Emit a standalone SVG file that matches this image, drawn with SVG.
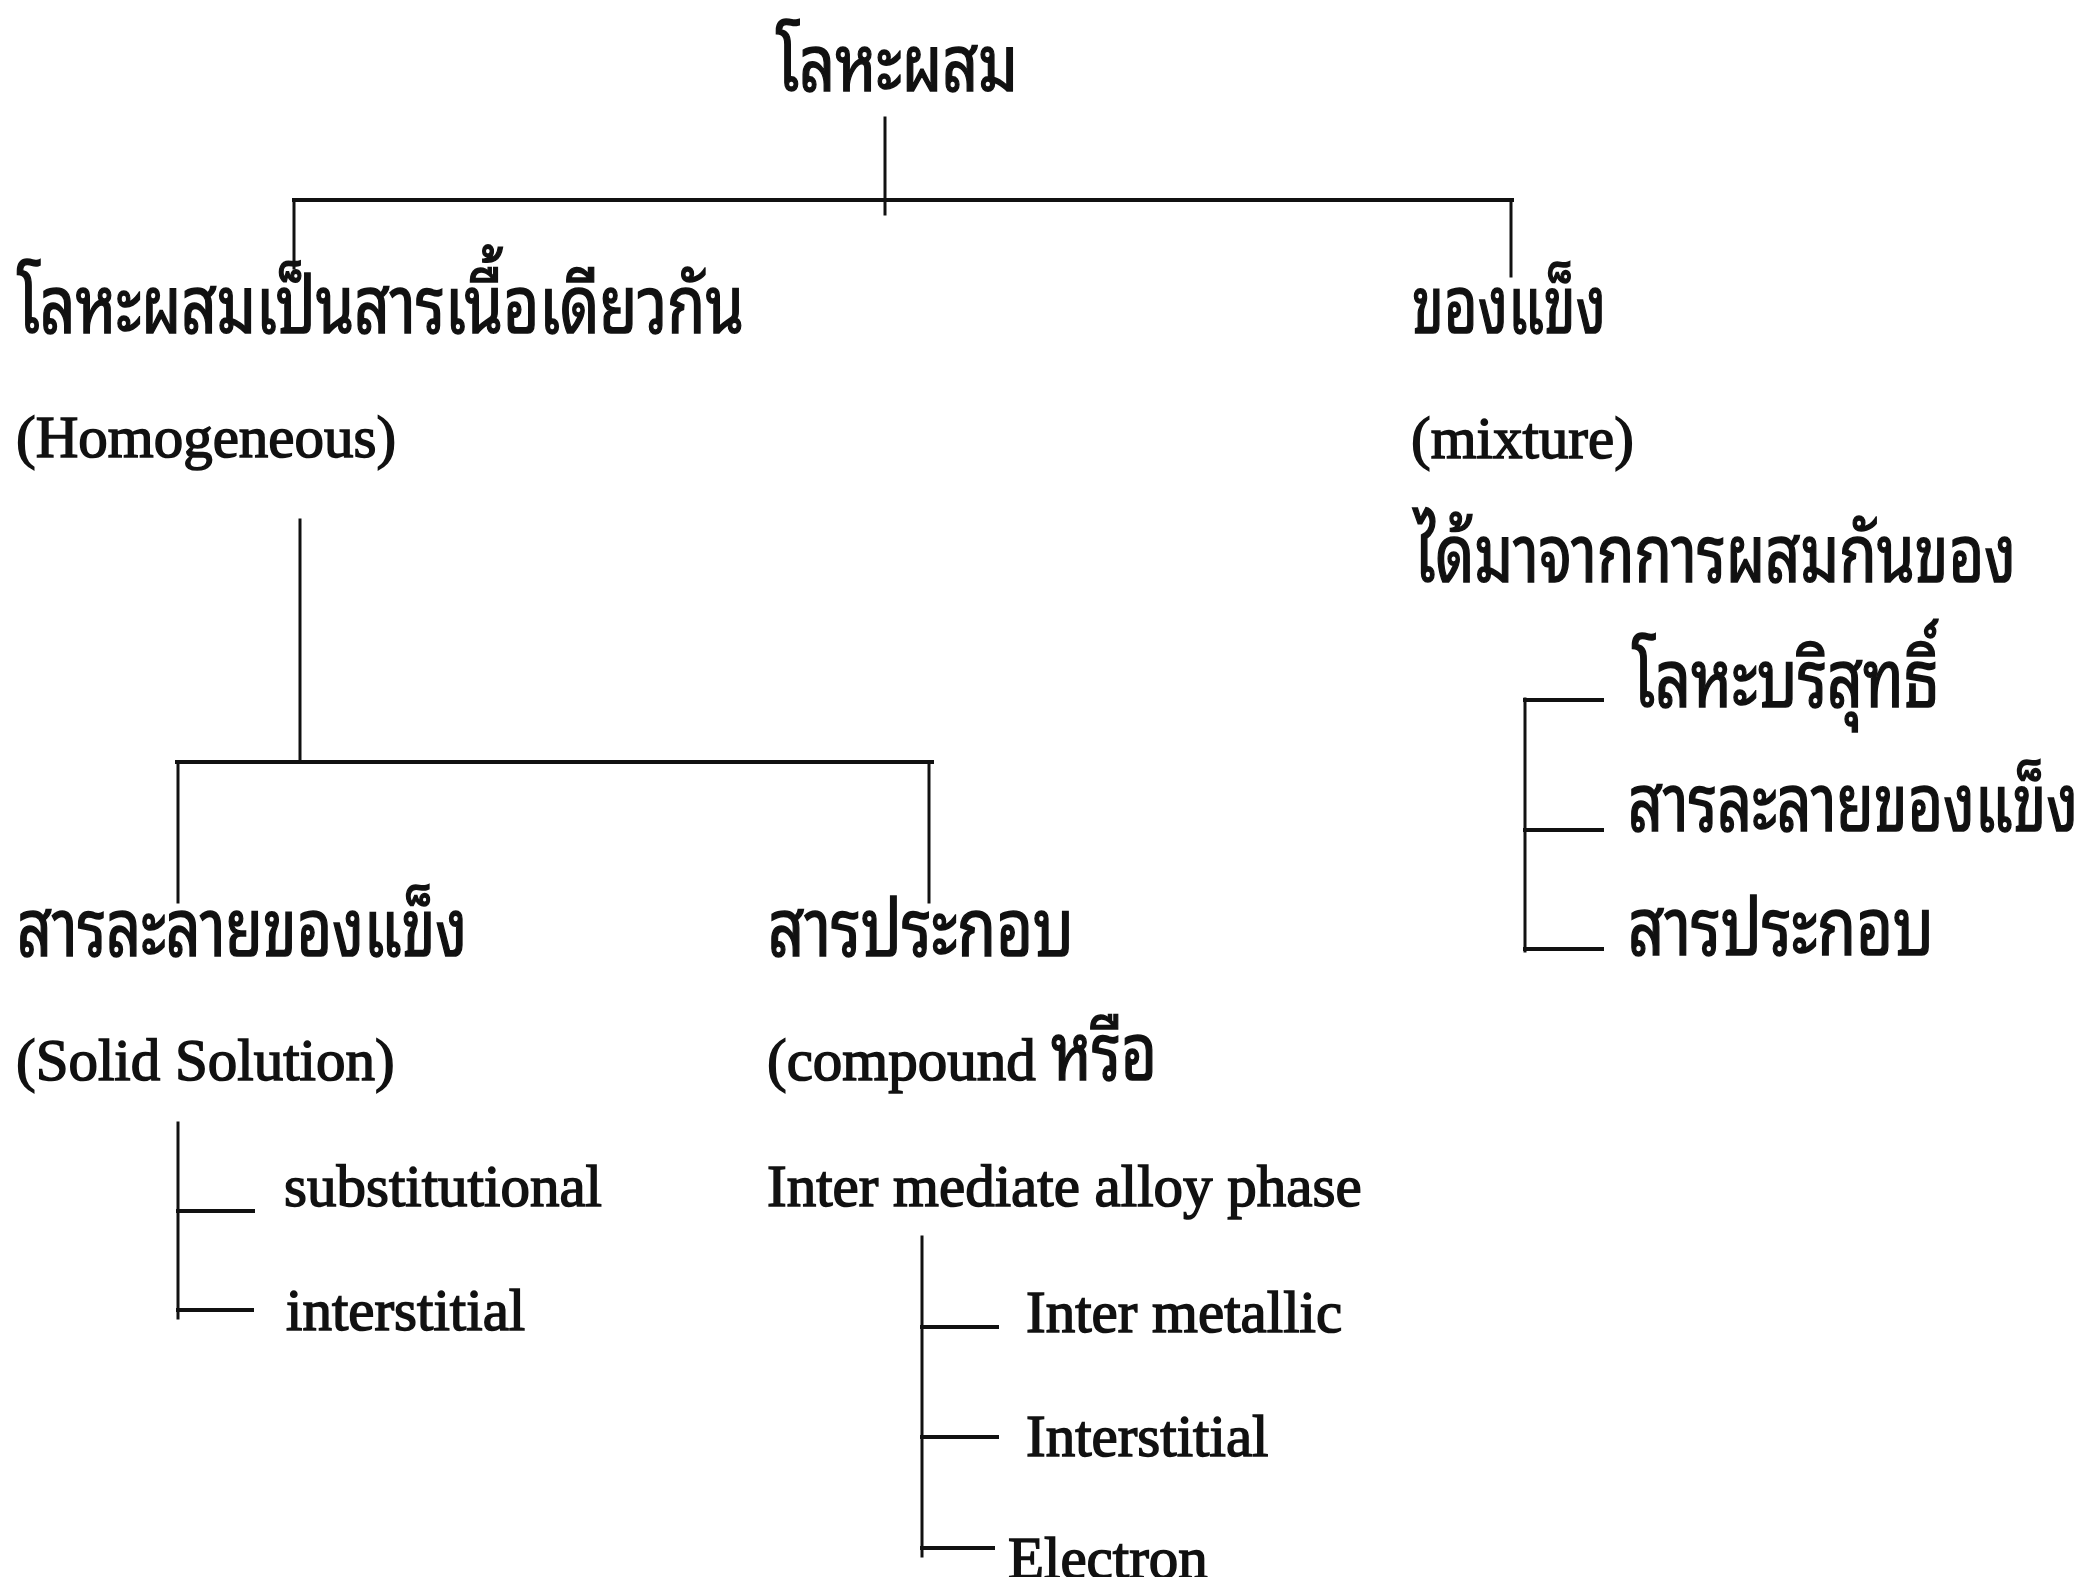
<svg xmlns="http://www.w3.org/2000/svg" width="2091" height="1577" viewBox="0 0 2091 1577">
<style>
.th{font-family:"Noto Sans Thai Looped","Noto Serif Thai","Noto Sans Thai","Noto Sans",sans-serif;font-size:56px;fill:#111;stroke:#111;stroke-width:1.1;}
.en{font-family:"Liberation Serif","Times New Roman",serif;font-size:59px;fill:#111;stroke:#111;stroke-width:1.5;}
.ln{stroke:#111;stroke-width:3;fill:none;stroke-linecap:square;}
.hl{stroke:#111;stroke-width:4;fill:none;stroke-linecap:square;}
</style>
<rect width="2091" height="1577" fill="#fff"/>
<g id="connectors">
<line class="ln" x1="885" y1="118" x2="885" y2="214"/>
<line class="hl" x1="294" y1="200" x2="1512" y2="200"/>
<line class="ln" x1="294" y1="200" x2="294" y2="268"/>
<line class="ln" x1="1511" y1="200" x2="1511" y2="276"/>
<line class="ln" x1="300" y1="520" x2="300" y2="762"/>
<line class="hl" x1="177" y1="762" x2="932" y2="762"/>
<line class="ln" x1="178" y1="762" x2="178" y2="902"/>
<line class="ln" x1="929" y1="762" x2="929" y2="902"/>
<line class="ln" x1="1525" y1="699" x2="1525" y2="951"/>
<line class="hl" x1="1525" y1="700" x2="1602" y2="700"/>
<line class="hl" x1="1525" y1="830" x2="1602" y2="830"/>
<line class="hl" x1="1525" y1="949" x2="1602" y2="949"/>
<line class="ln" x1="178" y1="1123" x2="178" y2="1318"/>
<line class="hl" x1="178" y1="1211" x2="253" y2="1211"/>
<line class="hl" x1="178" y1="1310" x2="252" y2="1310"/>
<line class="ln" x1="922" y1="1237" x2="922" y2="1556"/>
<line class="hl" x1="922" y1="1327" x2="997" y2="1327"/>
<line class="hl" x1="922" y1="1437" x2="997" y2="1437"/>
<line class="hl" x1="922" y1="1548" x2="993" y2="1548"/>
</g>
<g id="n-root"><text class="th" transform="translate(776,91) scale(1,1.4)" textLength="242" lengthAdjust="spacingAndGlyphs">โลหะผสม</text></g>
<g id="n-homogeneous">
<text class="th" transform="translate(17,333) scale(1,1.43)" textLength="727" lengthAdjust="spacingAndGlyphs">โลหะผสมเป็นสารเนื้อเดียวกัน</text>
<text class="en" x="16" y="457">(Homogeneous)</text>
</g>
<g id="n-mixture">
<text class="th" transform="translate(1412,333) scale(1,1.43)" textLength="194" lengthAdjust="spacingAndGlyphs">ของแข็ง</text>
<text class="en" x="1411" y="458">(mixture)</text>
<text class="th" transform="translate(1414,582) scale(1,1.43)" textLength="602" lengthAdjust="spacingAndGlyphs">ได้มาจากการผสมกันของ</text>
</g>
<g id="n-pure"><text class="th" transform="translate(1632,707) scale(1,1.43)" textLength="307" lengthAdjust="spacingAndGlyphs">โลหะบริสุทธิ์</text></g>
<g id="n-solid-r"><text class="th" transform="translate(1628,831) scale(1,1.43)" textLength="450" lengthAdjust="spacingAndGlyphs">สารละลายของแข็ง</text></g>
<g id="n-compound-r"><text class="th" transform="translate(1628,955) scale(1,1.43)" textLength="306" lengthAdjust="spacingAndGlyphs">สารประกอบ</text></g>
<g id="n-solid">
<text class="th" transform="translate(17,956) scale(1,1.43)" textLength="450" lengthAdjust="spacingAndGlyphs">สารละลายของแข็ง</text>
<text class="en" x="16" y="1080">(Solid Solution)</text>
</g>
<g id="n-compound">
<text class="th" transform="translate(768,956) scale(1,1.43)" textLength="306" lengthAdjust="spacingAndGlyphs">สารประกอบ</text>
<text class="en" x="767" y="1080">(compound</text>
<text class="th" transform="translate(1051,1080) scale(1,1.43)" textLength="106" lengthAdjust="spacingAndGlyphs">หรือ</text>
<text class="en" x="767" y="1206">Inter mediate alloy phase</text>
</g>
<g id="n-substitutional"><text class="en" x="284" y="1206">substitutional</text></g>
<g id="n-interstitial"><text class="en" x="286" y="1330">interstitial</text></g>
<g id="n-intermetallic"><text class="en" x="1026" y="1332">Inter metallic</text></g>
<g id="n-interstitial2"><text class="en" x="1026" y="1456">Interstitial</text></g>
<g id="n-electron"><text class="en" x="1008" y="1578">Electron</text></g>
</svg>
